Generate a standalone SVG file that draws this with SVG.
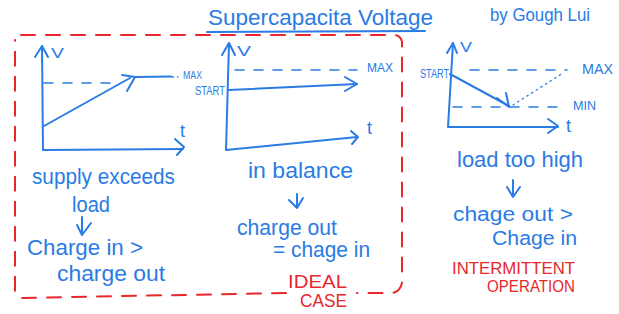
<svg xmlns="http://www.w3.org/2000/svg" width="619" height="314" viewBox="0 0 619 314">
<defs>
<style>
.b{fill:none;stroke:#2a7be4;stroke-width:2;stroke-linecap:round;stroke-linejoin:round}
.bd{fill:none;stroke:#2a7be4;stroke-width:1.6;stroke-linecap:round;stroke-dasharray:9 10}
.bdot{fill:none;stroke:#2a7be4;stroke-width:1.3;stroke-linecap:round;stroke-dasharray:1.5 4}
.r{fill:none;stroke:#e8262c;stroke-width:2;stroke-linecap:round;stroke-dasharray:14 11}
.t{font-family:"Liberation Sans","DejaVu Sans",sans-serif;fill:#2a7be4}
.tr{font-family:"Liberation Sans","DejaVu Sans",sans-serif;fill:#e8262c}
</style>
</defs>
<rect width="619" height="314" fill="#ffffff"/>

<g id="title">
<text class="t" x="208" y="25" font-size="22" textLength="225" lengthAdjust="spacingAndGlyphs">Supercapacita Voltage</text>
<path class="b" d="M207 32 L425 31"/>
<text class="t" x="490" y="21" font-size="18" textLength="100" lengthAdjust="spacingAndGlyphs">by Gough Lui</text>
</g>

<g id="frame">
<path class="r" d="M21 35 L395 35 Q401 36 402 42 L402 283 Q400 292 392 293 L357 293"/>
<path class="r" d="M286 293 L20 298 L15 292 L15 40"/>
<text class="tr" x="288" y="288" font-size="18" textLength="59" lengthAdjust="spacingAndGlyphs">IDEAL</text>
<text class="tr" x="300" y="307" font-size="18" textLength="47" lengthAdjust="spacingAndGlyphs">CASE</text>
</g>

<g id="panel-supply">
<path class="b" d="M42 46 L43 150 L183 149"/>
<path class="b" d="M35 57 L42 46 L48 57"/>
<path class="b" d="M175 139 L184 147 L177 155"/>
<text class="t" x="51" y="58" font-size="15" textLength="13" lengthAdjust="spacingAndGlyphs">V</text>
<text class="t" x="180" y="137" font-size="18">t</text>
<path class="bd" d="M44 83 L115 83"/>
<path class="b" d="M44 126 L130 78"/>
<path class="b" d="M122 75 L135 77 L127 91"/>
<path class="b" d="M135 77 L171 76.5" stroke-width="2.6"/>
<path class="bdot" d="M172 77 L178 77"/>
<text class="t" x="183" y="79" font-size="10" textLength="19" lengthAdjust="spacingAndGlyphs">MAX</text>
<text class="t" x="32" y="184" font-size="22" textLength="143" lengthAdjust="spacingAndGlyphs">supply exceeds</text>
<text class="t" x="72" y="212" font-size="22" textLength="38" lengthAdjust="spacingAndGlyphs">load</text>
<text class="t" x="27" y="255" font-size="22" textLength="116" lengthAdjust="spacingAndGlyphs">Charge in &gt;</text>
<text class="t" x="57" y="281" font-size="22" textLength="108" lengthAdjust="spacingAndGlyphs">charge out</text>
</g>

<g id="panel-balance">
<path class="b" d="M229 43 L226 150 L357 137"/>
<path class="b" d="M222 55 L229 43 L235 55"/>
<path class="b" d="M351 131 L358 137 L352 144"/>
<text class="t" x="237" y="56" font-size="15" textLength="14" lengthAdjust="spacingAndGlyphs">V</text>
<text class="t" x="367" y="134" font-size="18">t</text>
<path class="bd" d="M235 70 L357 70"/>
<text class="t" x="367" y="72" font-size="13" textLength="26" lengthAdjust="spacingAndGlyphs">MAX</text>
<path class="b" d="M229 90 L357 84"/>
<path class="b" d="M345 77 L357 84 L345 91"/>
<text class="t" x="195" y="95" font-size="13" textLength="30" lengthAdjust="spacingAndGlyphs">START</text>
<text class="t" x="248" y="178" font-size="22" textLength="105" lengthAdjust="spacingAndGlyphs">in balance</text>
<text class="t" x="237" y="235" font-size="22" textLength="100" lengthAdjust="spacingAndGlyphs">charge out</text>
<text class="t" x="273" y="257" font-size="22" textLength="97" lengthAdjust="spacingAndGlyphs">= chage in</text>
</g>

<g id="panel-load">
<path class="b" d="M453 43 L448 127 L558 127"/>
<path class="b" d="M447 53 L453 43 L457 53"/>
<path class="b" d="M548 119 L558 126 L548 133"/>
<text class="t" x="460" y="52" font-size="15" textLength="12" lengthAdjust="spacingAndGlyphs">V</text>
<text class="t" x="566" y="132" font-size="18">t</text>
<text class="t" x="420" y="78" font-size="12" textLength="29" lengthAdjust="spacingAndGlyphs">START</text>
<path class="bd" d="M470 70 L567 70"/>
<text class="t" x="582" y="74" font-size="14" textLength="31" lengthAdjust="spacingAndGlyphs">MAX</text>
<path class="b" d="M450 74 L509 106"/>
<path class="b" d="M497 98 L509 107 L506 93"/>
<path class="bdot" d="M513 105 L563 73"/>
<path class="bd" d="M453 107 L567 107"/>
<text class="t" x="573" y="110" font-size="13" textLength="23" lengthAdjust="spacingAndGlyphs">MIN</text>
<text class="t" x="457" y="167" font-size="22" textLength="126" lengthAdjust="spacingAndGlyphs">load too high</text>
<text class="t" x="453" y="221" font-size="20" textLength="120" lengthAdjust="spacingAndGlyphs">chage out &gt;</text>
<text class="t" x="492" y="245" font-size="20" textLength="85" lengthAdjust="spacingAndGlyphs">Chage in</text>
<text class="tr" x="452" y="274" font-size="16" textLength="123" lengthAdjust="spacingAndGlyphs">INTERMITTENT</text>
<text class="tr" x="487" y="292" font-size="16" textLength="88" lengthAdjust="spacingAndGlyphs">OPERATION</text>
</g>

<g id="connectors">
<path class="b" d="M82 217 L82 235 M77 225 L82 235 L91 223"/>
<path class="b" d="M297 194 L297 208 M289 200 L297 208 L303 198"/>
<path class="b" d="M513 180 L513 197 M507 187 L513 197 L520 187"/>
</g>
</svg>
